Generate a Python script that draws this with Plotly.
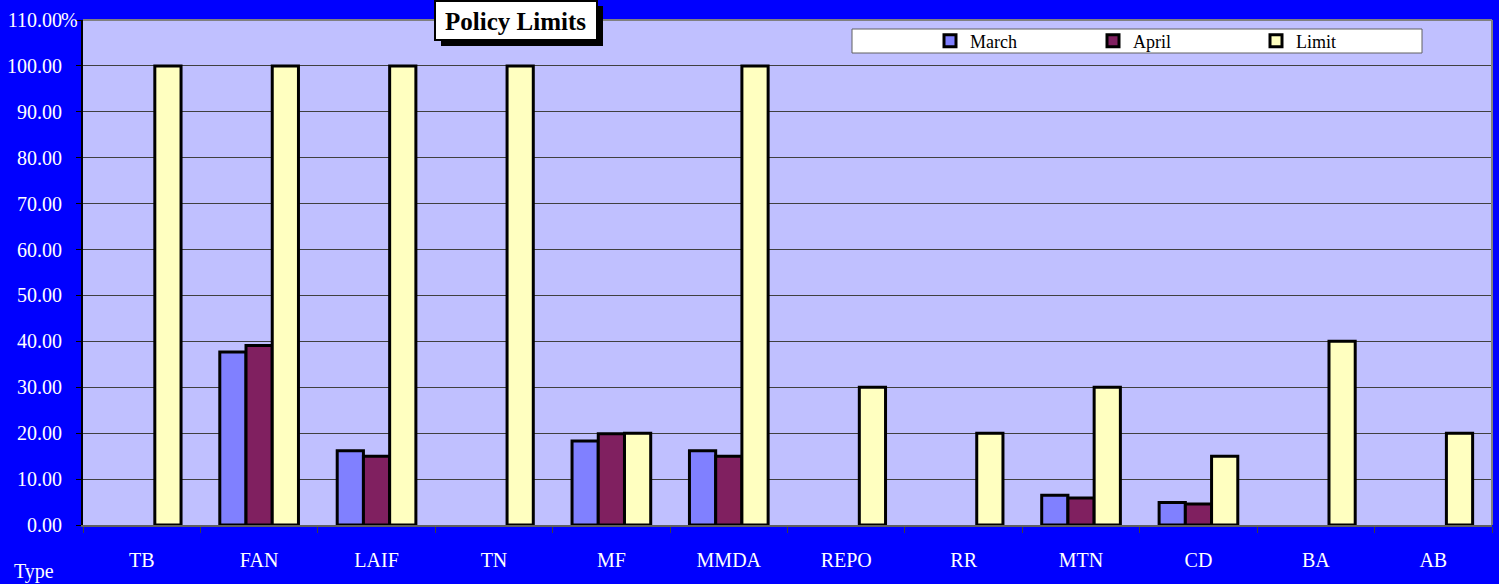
import plotly.graph_objects as go

categories = ["TB", "FAN", "LAIF", "TN", "MF", "MMDA", "REPO", "RR", "MTN", "CD", "BA", "AB"]
march = [0, 37.7, 16.2, 0, 18.3, 16.2, 0, 0, 6.5, 4.9, 0, 0]
april = [0, 39.1, 15.0, 0, 19.9, 15.0, 0, 0, 5.9, 4.6, 0, 0]
limit = [100, 100, 100, 100, 20, 100, 30, 20, 30, 15, 40, 20]
y_ticks = [0, 10, 20, 30, 40, 50, 60, 70, 80, 90, 100, 110]

W, H = 1499, 584
L, R, T, B = 83, 7, 20, 59
PW, PH = W - L - R, H - T - B

def px(x):
    return (x - L) / PW

def py(y):
    return (H - B - y) / PH

def nz(vals):
    return [v if v != 0 else None for v in vals]

FONT = "Liberation Serif, Times New Roman, serif"
line = dict(color="black", width=3)

fig = go.Figure()
fig.add_trace(go.Bar(name="March", x=categories, y=nz(march),
                     marker=dict(color="#8080FF", line=line)))
fig.add_trace(go.Bar(name="April", x=categories, y=nz(april),
                     marker=dict(color="#802060", line=line)))
fig.add_trace(go.Bar(name="Limit", x=categories, y=nz(limit),
                     marker=dict(color="#FFFFC0", line=line)))

shapes = [
    dict(type="line", xref="paper", yref="paper", x0=0, x1=1, y0=1, y1=1,
         line=dict(color="#808080", width=2)),
    dict(type="line", xref="paper", yref="paper", x0=1, x1=1, y0=0, y1=1,
         line=dict(color="#808080", width=2)),
    dict(type="rect", xref="paper", yref="paper", x0=px(852), x1=px(1422),
         y0=py(53), y1=py(29), fillcolor="white", line=dict(color="#606060", width=1)),
    dict(type="rect", xref="paper", yref="paper", x0=px(441), x1=px(603),
         y0=py(46), y1=py(6), fillcolor="black", line=dict(width=0)),
    dict(type="rect", xref="paper", yref="paper", x0=px(435), x1=px(597),
         y0=py(40), y1=py(1), fillcolor="white", line=dict(color="black", width=2)),
]

annotations = [
    dict(text="<b>Policy Limits</b>", xref="paper", yref="paper",
         x=px(515), y=py(21), xanchor="center", yanchor="middle", showarrow=False,
         font=dict(family=FONT, size=25, color="black")),
    dict(text="%", xref="paper", yref="paper", x=px(69), y=py(20),
         xanchor="center", yanchor="middle",
         showarrow=False, font=dict(family=FONT, size=20, color="white")),
    dict(text="Type", xref="paper", yref="paper", x=px(34), y=py(571),
         xanchor="center", yanchor="middle",
         showarrow=False, font=dict(family=FONT, size=20, color="white")),
]

fig.update_layout(
    width=W, height=H,
    margin=dict(l=L, r=R, t=T, b=B, pad=0),
    paper_bgcolor="#0000FF",
    plot_bgcolor="#C0C0FF",
    barmode="group", bargap=0.33, bargroupgap=0,
    font=dict(family=FONT, color="white", size=20),
    showlegend=True,
    legend=dict(orientation="h", x=px(930), y=py(41), xanchor="left", yanchor="middle",
                bgcolor="rgba(0,0,0,0)", borderwidth=0,
                font=dict(family=FONT, size=18, color="black"),
                entrywidth=118, entrywidthmode="pixels", itemclick=False),
    shapes=shapes,
    annotations=annotations,
    xaxis=dict(type="category", showline=True, linecolor="#606060", linewidth=2,
               ticks="outside", tickson="boundaries", ticklen=6, tickcolor="#404040",
               tickfont=dict(family=FONT, size=20, color="white"),
               ticklabelstandoff=16, showgrid=False, fixedrange=True),
    yaxis=dict(range=[0, 110], tickvals=y_ticks, tickformat=".2f",
               showline=True, linecolor="black", linewidth=2,
               ticks="outside", ticklen=5, tickcolor="black",
               showgrid=True, gridcolor="#404040", gridwidth=1,
               zeroline=False,
               tickfont=dict(family=FONT, size=20, color="white"),
               ticklabelstandoff=10, fixedrange=True),
)

fig.write_html("out.html", config={"displayModeBar": False},
               post_script="document.body.style.margin='0';")
